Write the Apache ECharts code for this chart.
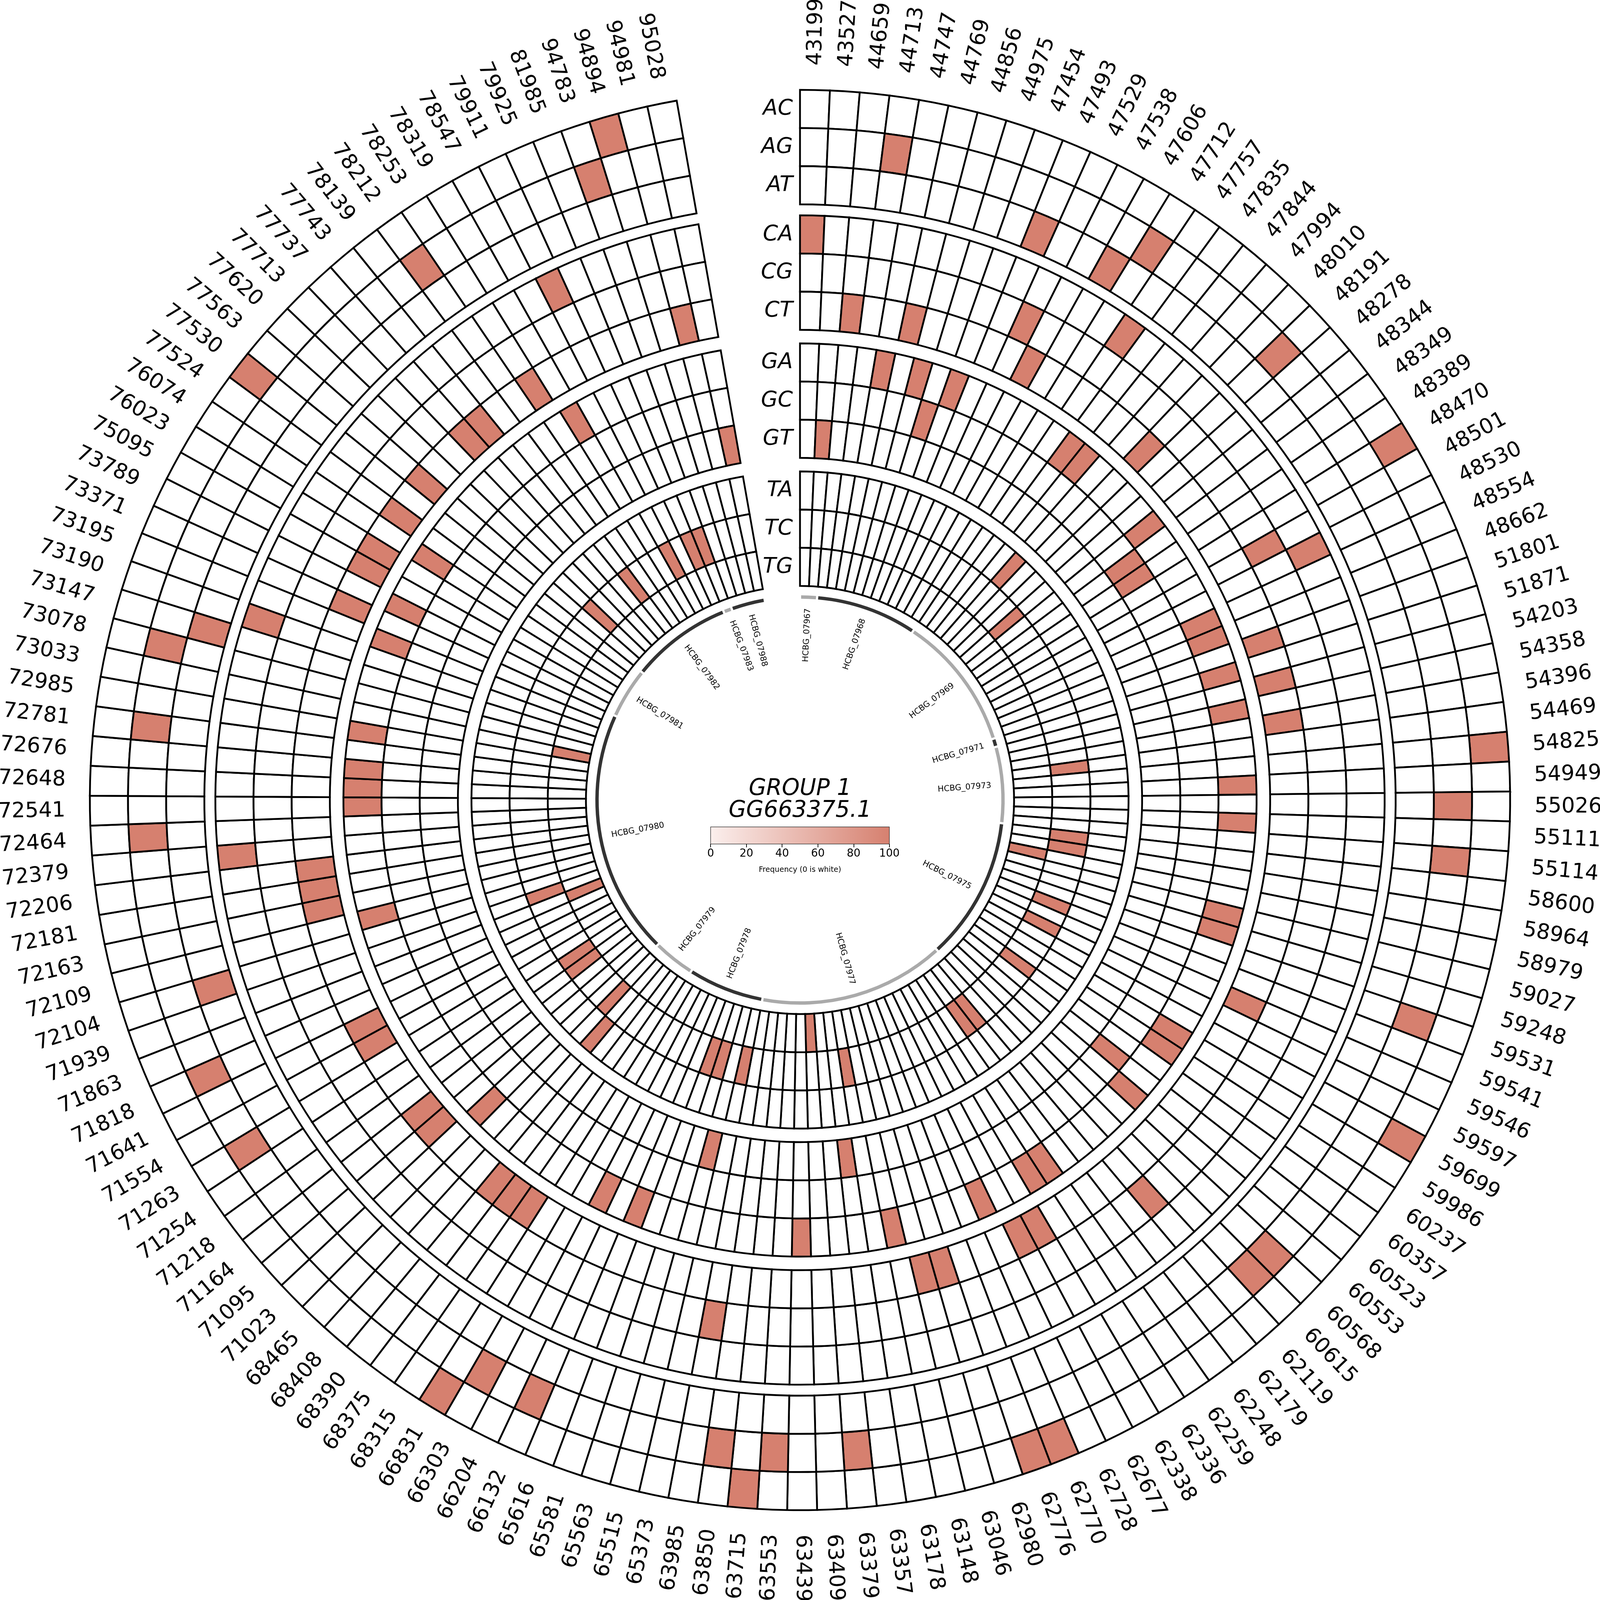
<!DOCTYPE html>
<html>
<head>
<meta charset="utf-8">
<script src="https://cdn.jsdelivr.net/npm/echarts@6/dist/echarts.min.js"></script>
<style>html,body{margin:0;padding:0;background:#fff;overflow:hidden}#chart{width:100vw;height:100vh}</style>
</head>
<body>
<div id="chart"></div>
<script>
// column labels (genome positions), clockwise from top
var positions = ['43199','43527','44659','44713','44747','44769','44856','44975','47454','47493','47529','47538','47606','47712','47757','47835','47844','47994','48010','48191','48278','48344','48349','48389','48470','48501','48530','48554','48662','51801','51871','54203','54358','54396','54469','54825','54949','55026','55111','55114','58600','58964','58979','59027','59248','59531','59541','59546','59597','59699','59986','60237','60357','60523','60553','60568','60615','62119','62179','62248','62259','62336','62338','62677','62728','62770','62776','62980','63046','63148','63178','63357','63379','63409','63439','63553','63715','63850','63985','65373','65515','65563','65581','65616','66132','66204','66303','66831','68315','68375','68390','68408','68465','71023','71095','71164','71218','71254','71263','71554','71641','71818','71863','71939','72104','72109','72163','72181','72206','72379','72464','72541','72648','72676','72781','72985','73033','73078','73147','73190','73195','73371','73789','75095','76023','76074','77524','77530','77563','77620','77713','77737','77743','78139','78212','78253','78319','78547','79911','79925','81985','94783','94894','94981','95028'];

// substitutions, outer ring to inner ring
var substitutions = ['AC','AG','AT','CA','CG','CT','GA','GC','GT','TA','TC','TG'];

// columns where frequency is 100 (all others 0)
var AC = [24,35,49,65,66,76,87,127,142];
var AG = [3,13,19,37,39,45,55,56,72,75,77,84,86,98,101,110,114,117,134,141];
var AT = [9,12,104,118];
var CA = [0,14,26,109,119,138];
var CG = [10,25,57,78];
var CT = [2,5,11,18,29,31,33,47,62,63,67,68,88,89,90,94,95,99,100,106,107,108,121,123,124,126,128,131,132,135,143];
var GA = [4,6,8,15,16,21,27,28,30,32,36,38,43,44,50,51,54,60,61,64,69,74,83,85,93,105,111,112,113,115,120,122,125,136];
var GC = [7,22,23,53];
var GT = [1,71,80,144];
var TA = [17,91];
var TC = [20,34,40,41,46,48,52,58,59,70,79,81,82,92,96,97,103,129,133,137,139,140];
var TG = [42,73,102,116];
var hits = [AC,AG,AT,CA,CG,CT,GA,GC,GT,TA,TC,TG];

// genes along the inner track (in column units)
var geneNames = ['HCBG_07967','HCBG_07968','HCBG_07969','HCBG_07971','HCBG_07973','HCBG_07975','HCBG_07977','HCBG_07978','HCBG_07979','HCBG_07980','HCBG_07981','HCBG_07982','HCBG_07983','HCBG_07988'];
var geneStart = [0,2,14,30,31,40,57,79,88,93,122,128,140,141];
var geneEnd   = [2,14,30,31,40,57,79,88,93,122,128,140,141,145];

var colorTicks = [0,20,40,60,80,100];

// layout: designed for a 6660px square, scaled to the window
var W = Math.min(window.innerWidth, window.innerHeight);
var S = W / 6660;
function px(v) { return v * S; }

var RED = '#d6806f';
var ROW_H = 37.4;
var groupOuter = [696, 573, 447.5, 322];
var rowOuter = [];
for (var g = 0; g < 4; g++) for (var k = 0; k < 3; k++) rowOuter.push(groupOuter[g] - k * ROW_H);
var N = positions.length;
var ANGLE_MAX = N * 360 / 350;
var DEG = ANGLE_MAX / 360;

var cellData = [];
for (var r = 0; r < substitutions.length; r++) {
  for (var c = 0; c < N; c++) {
    cellData.push([c, r, hits[r].indexOf(c) >= 0 ? 100 : 0]);
  }
}
var geneData = geneNames.map(function (n, i) { return [geneStart[i], geneEnd[i], i]; });

function polarOf(pt, cs) {
  var dx = pt[0] - cs.cx, dy = pt[1] - cs.cy;
  return [Math.sqrt(dx * dx + dy * dy), Math.atan2(dy, dx)];
}
function sector(api, cs, rIn, rOut, a, b) {
  var p0 = polarOf(api.coord([rOut, a]), cs);
  var p1 = polarOf(api.coord([rIn, b]), cs);
  var a0 = p0[1], a1 = p1[1];
  if (a1 < a0) a1 += Math.PI * 2;
  return {cx: cs.cx, cy: cs.cy, r0: p1[0], r: p0[0], startAngle: a0, endAngle: a1, clockwise: true};
}
function radialText(api, rad, col, text, size, outerAnchor) {
  var mid = col + 0.5;
  var pt = api.coord([rad, mid]);
  var theta = mid / DEG;
  var right = theta < 180;
  var rot = right ? (90 - theta) : (270 - theta);
  var align = outerAnchor ? (right ? 'right' : 'left') : (right ? 'left' : 'right');
  return {
    type: 'text', x: pt[0], y: pt[1], rotation: rot * Math.PI / 180,
    style: {text: text, x: 0, y: 0, textAlign: align, textVerticalAlign: 'middle',
      font: px(size) + 'px "DejaVu Sans"', fill: '#000'}
  };
}

var myChart = echarts.init(document.getElementById('chart'));
var option = {
  animation: false,
  backgroundColor: '#fff',
  title: {
    text: 'GROUP 1\nGG663375.1',
    left: 'center', top: px(3232),
    textStyle: {fontFamily: 'DejaVu Sans', fontStyle: 'italic', fontWeight: 'normal', fontSize: px(94), lineHeight: px(90), color: '#000'}
  },
  polar: {center: ['50%', '50%'], radius: [0, px(2956)]},
  angleAxis: {type: 'value', min: 0, max: ANGLE_MAX, startAngle: 90, clockwise: true,
    axisLine: {show: false}, axisTick: {show: false}, axisLabel: {show: false}, splitLine: {show: false}},
  radiusAxis: {type: 'value', min: 0, max: 696,
    axisLine: {show: false}, axisTick: {show: false}, axisLabel: {show: false}, splitLine: {show: false}},
  grid: {left: px(2958), top: px(3442), width: px(744), height: px(71)},
  xAxis: {type: 'value', min: 0, max: 100, interval: 20,
    axisLine: {show: false}, splitLine: {show: false},
    axisTick: {show: true, length: px(14), lineStyle: {color: '#000', width: px(3)}},
    axisLabel: {fontFamily: 'DejaVu Sans', fontSize: px(45), color: '#000', margin: px(18)},
    name: 'Frequency (0 is white)', nameLocation: 'middle', nameGap: px(92),
    nameTextStyle: {fontFamily: 'DejaVu Sans', fontSize: px(31), color: '#000'}},
  yAxis: {type: 'value', min: 0, max: 1, show: false},
  series: [
    {
      name: 'cells', type: 'custom', coordinateSystem: 'polar', data: cellData, silent: true,
      renderItem: function (params, api) {
        var c = api.value(0), row = api.value(1), v = api.value(2);
        var ro = rowOuter[row];
        return {type: 'sector', shape: sector(api, params.coordSys, ro - ROW_H, ro, c, c + 1),
          style: {fill: v > 0 ? RED : '#fff', stroke: '#000', lineWidth: px(7.5)}};
      }
    },
    {
      name: 'genes', type: 'custom', coordinateSystem: 'polar', data: geneData, silent: true,
      renderItem: function (params, api) {
        var s = api.value(0), e = api.value(1), i = api.value(2);
        var shp = sector(api, params.coordSys, 197.3, 200.6, s + 0.13, e - 0.13);
        var mid = (s + e) / 2 - 0.5;
        return {type: 'group', children: [
          {type: 'sector', shape: shp, style: {fill: i % 2 === 0 ? '#aaaaaa' : '#333333'}},
          radialText(api, 188, mid, geneNames[i], 34, true)
        ]};
      }
    },
    {
      name: 'positions', type: 'custom', coordinateSystem: 'polar', silent: true,
      data: positions.map(function (p, i) { return [i]; }),
      renderItem: function (params, api) {
        var i = api.value(0);
        return radialText(api, 720, i, positions[i], 88, false);
      }
    },
    {
      name: 'rowLabels', type: 'custom', coordinateSystem: 'polar', silent: true,
      data: substitutions.map(function (s, i) { return [i]; }),
      renderItem: function (params, api) {
        var i = api.value(0);
        var pt = api.coord([rowOuter[i] - ROW_H / 2, 0]);
        return {type: 'text', x: pt[0] - px(30), y: pt[1],
          style: {text: substitutions[i], textAlign: 'right', textVerticalAlign: 'middle',
            font: 'italic ' + px(90) + 'px "DejaVu Sans"', fill: '#000'}};
      }
    },
    {
      name: 'colorbar', type: 'custom', coordinateSystem: 'cartesian2d', silent: true,
      data: [[colorTicks[0], colorTicks[colorTicks.length - 1]]],
      renderItem: function (params, api) {
        var p0 = api.coord([api.value(0), 1]), p1 = api.coord([api.value(1), 0]);
        return {type: 'rect', shape: {x: p0[0], y: p0[1], width: p1[0] - p0[0], height: p1[1] - p0[1]},
          style: {fill: new echarts.graphic.LinearGradient(0, 0, 1, 0, [
            {offset: 0, color: '#fbefed'}, {offset: 1, color: RED}]), stroke: '#222', lineWidth: px(2)}};
      }
    }
  ]
};
myChart.setOption(option);
</script>
</body>
</html>
